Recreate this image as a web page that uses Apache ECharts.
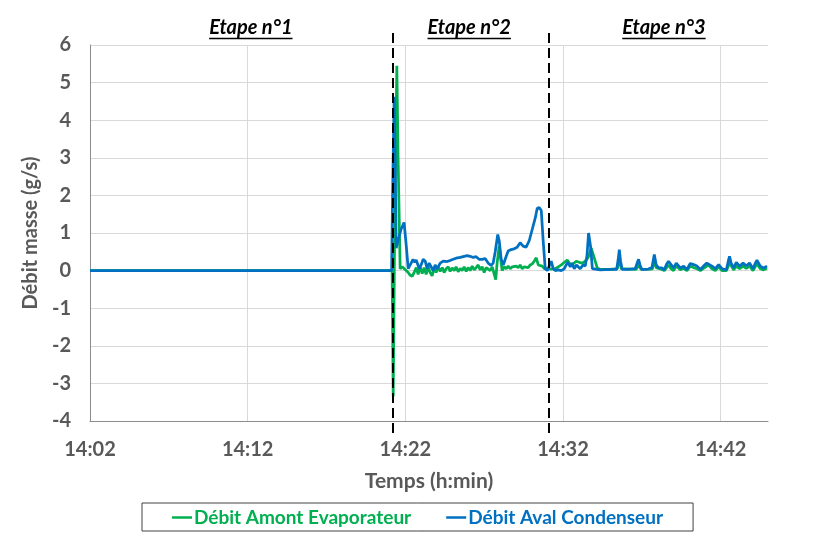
<!DOCTYPE html>
<html>
<head>
<meta charset="utf-8">
<script src="https://cdn.jsdelivr.net/npm/echarts@6/dist/echarts.min.js"></script>
<style>html,body{margin:0;padding:0;background:#fff}#c{width:814px;height:533px}</style>
</head>
<body>
<div id="c"></div>
<script>
// time in minutes after 14:02
const startLabelMinutes = 14 * 60 + 2;
const xTicks = [0, 10, 20, 30, 40];
const yTicks = [-4, -3, -2, -1, 0, 1, 2, 3, 4, 5, 6];
const stageBoundaries = [19.21, 29.08];
const stageTitles = ['Etape n°1', 'Etape n°2', 'Etape n°3'];
const stageTitleCenters = [10.2, 24.05, 36.4];
const seriesNames = ['Débit Amont Evaporateur', 'Débit Aval Condenseur'];

const amontEvaporateur = [
  [0,0],[5,0],[10,0],[15,0],[19.16,0],[19.23,-3.35],[19.32,1.0],[19.46,5.45],[19.54,3.0],[19.67,0.05],
  [19.80,0.1],[19.92,0.05],[20.05,0.0],[20.18,-0.05],[20.30,-0.12],[20.43,-0.15],[20.56,-0.05],[20.69,0.08],
  [20.81,-0.1],[20.94,0.1],[21.07,-0.08],[21.19,0.08],[21.32,-0.1],[21.45,0.1],[21.57,-0.05],[21.70,-0.14],
  [21.83,0.08],[21.95,-0.05],[22.08,0.1],[22.21,-0.02],[22.34,0.08],[22.46,-0.05],[22.59,0.05],[22.72,0.1],
  [22.84,-0.02],[22.97,0.07],[23.10,0.0],[23.22,0.1],[23.35,-0.03],[23.48,0.06],[23.60,0.0],[23.73,0.1],
  [23.86,-0.02],[23.98,0.08],[24.11,0.0],[24.24,0.12],[24.37,0.02],[24.49,0.08],[24.62,0.15],[24.75,0.02],
  [24.87,0.1],[25.00,-0.05],[25.13,0.08],[25.25,0.12],[25.38,0.0],[25.51,0.1],[25.63,0.05],[25.73,-0.24],
  [25.82,0.2],[25.95,0.65],[26.05,0.3],[26.14,0.0],[26.27,0.1],[26.40,0.05],[26.52,0.12],[26.65,0.05],
  [26.78,0.1],[26.90,0.05],[27.03,0.12],[27.16,0.08],[27.28,0.15],[27.41,0.05],[27.54,0.1],[27.66,0.12],
  [27.79,0.08],[27.92,0.15],[28.05,0.18],[28.17,0.25],[28.30,0.34],[28.43,0.15],[28.55,0.1],[28.68,0.12],
  [28.81,0.05],[28.93,0.1],[29.06,0.06],[29.19,0.04],[29.31,0.08],[29.51,0.05],[29.70,0.1],[29.89,0.15],
  [30.08,0.22],[30.27,0.28],[30.46,0.16],[30.65,0.18],[30.84,0.25],[31.03,0.22],[31.22,0.2],[31.41,0.25],
  [31.60,0.35],[31.79,0.6],[31.98,0.34],[32.17,0.07],[32.36,0.03],[32.99,0.03],[33.44,0.05],[33.57,0.3],
  [33.69,0.05],[34.64,0.03],[34.79,0.15],[34.96,0.03],[35.66,0.04],[35.79,0.25],[35.91,0.08],[36.28,0.03],
  [36.42,0.0],[36.69,0.15],[36.85,0.05],[37.01,0.0],[37.18,0.12],[37.44,0.02],[37.65,0.06],[37.86,0.0],
  [38.07,0.12],[38.28,0.08],[38.50,0.05],[38.71,0.0],[38.91,0.06],[39.23,0.15],[39.45,0.05],[39.66,0.0],
  [39.87,0.1],[40.08,0.0],[40.36,0.0],[40.56,0.2],[40.82,0.02],[40.99,0.12],[41.20,0.05],[41.42,0.12],
  [41.62,0.06],[41.83,0.12],[42.05,0.0],[42.30,0.18],[42.51,0.05],[42.72,0.02],[42.94,0.06]
];

const avalCondenseur = [
  [0,0],[5,0],[10,0],[15,0],[19.13,0],[19.19,2.0],[19.29,4.62],[19.35,3.0],[19.42,0.6],[19.54,0.8],
  [19.73,1.1],[19.92,1.28],[20.05,0.7],[20.18,0.05],[20.30,0.1],[20.49,0.3],[20.60,0.22],[20.69,0.28],[20.88,0.05],
  [21.00,0.15],[21.13,0.3],[21.26,0.25],[21.38,0.05],[21.51,0.2],[21.64,0.1],[21.76,0.0],[21.89,0.15],
  [22.02,0.05],[22.21,0.2],[22.30,0.16],[22.40,0.25],[22.52,0.2],[22.65,0.24],[22.84,0.27],[23.03,0.3],[23.22,0.33],[23.48,0.35],
  [23.60,0.32],[23.73,0.38],[23.92,0.4],[24.11,0.38],[24.30,0.35],[24.49,0.37],[24.68,0.3],[24.87,0.3],[25.06,0.32],
  [25.25,0.2],[25.44,0.14],[25.57,0.2],[25.70,0.5],[25.86,0.96],[25.95,0.8],[26.08,0.3],[26.21,0.15],
  [26.33,0.3],[26.52,0.52],[26.71,0.56],[26.90,0.58],[27.09,0.62],[27.28,0.74],[27.47,0.65],[27.66,0.62],
  [27.86,0.8],[28.05,1.1],[28.24,1.4],[28.36,1.65],[28.49,1.68],[28.62,1.6],[28.74,0.8],[28.87,0.05],
  [29.00,0.0],[29.12,0.05],[29.25,0.25],[29.38,0.05],[29.51,0.0],[29.70,0.02],[29.89,0.0],[30.08,0.05],
  [30.20,0.15],[30.31,0.22],[30.46,0.1],[30.57,0.2],[30.71,0.05],[30.85,0.15],[30.96,0.2],[31.09,0.05],[31.28,0.15],[31.41,0.12],
  [31.52,0.4],[31.62,1.0],[31.68,1.03],[31.76,0.6],[31.86,0.05],[32.36,0.02],[32.99,0.03],[33.40,0.03],
  [33.50,0.3],[33.57,0.56],[33.65,0.25],[33.75,0.03],[34.14,0.03],[34.58,0.05],[34.70,0.2],[34.79,0.3],[34.88,0.15],[35.00,0.03],[35.41,0.04],[35.64,0.08],
  [35.79,0.43],[35.91,0.15],[36.06,0.07],[36.28,0.07],[36.42,0.02],[36.58,0.18],[36.69,0.25],[36.85,0.16],[37.01,0.07],
  [37.18,0.2],[37.44,0.07],[37.65,0.12],[37.86,0.03],[38.07,0.19],[38.28,0.16],[38.50,0.12],[38.71,0.03],
  [38.91,0.12],[39.12,0.2],[39.23,0.25],[39.45,0.12],[39.66,0.05],[39.87,0.16],[40.08,0.05],[40.36,0.02],[40.48,0.25],[40.56,0.38],[40.66,0.2],
  [40.82,0.07],[40.99,0.22],[41.20,0.12],[41.42,0.2],[41.62,0.13],[41.83,0.2],[42.05,0.05],[42.20,0.2],[42.30,0.28],
  [42.51,0.12],[42.72,0.07],[42.94,0.12]
];

const FONT = 'Lato';
const GREY = '#595959';
const chart = echarts.init(document.getElementById('c'), null, {renderer: 'canvas'});

function fmtTime(v) {
  const m = Math.round(startLabelMinutes + v);
  const h = Math.floor(m / 60), mm = m % 60;
  return h + ':' + (mm < 10 ? '0' : '') + mm;
}

chart.setOption({
  animation: false,
  backgroundColor: '#fff',
  grid: {left: 90, right: 46, top: 45, bottom: 112, containLabel: false},
  xAxis: {
    type: 'value', min: 0, max: 43, interval: 10,
    name: 'Temps (h:min)', nameLocation: 'middle', nameGap: 50,
    nameTextStyle: {color: GREY, fontFamily: FONT, fontWeight: 'bold', fontSize: 21},
    axisLine: {show: true, onZero: false, lineStyle: {color: '#8c8c8c', width: 1}},
    axisTick: {show: false},
    axisLabel: {color: GREY, fontFamily: FONT, fontWeight: 'bold', fontSize: 20, margin: 19,
      showMaxLabel: false, formatter: v => xTicks.includes(v) ? fmtTime(v) : ''},
    splitLine: {show: true, showMinLine: false, showMaxLine: false, lineStyle: {color: '#d9d9d9', width: 1}}
  },
  yAxis: {
    type: 'value', min: yTicks[0], max: yTicks[yTicks.length - 1], interval: 1,
    name: 'Débit masse (g/s)', nameLocation: 'middle', nameGap: 44,
    nameTextStyle: {color: GREY, fontFamily: FONT, fontWeight: 'bold', fontSize: 20},
    axisLine: {show: true, lineStyle: {color: '#8c8c8c', width: 1}},
    axisTick: {show: false},
    axisLabel: {color: GREY, fontFamily: FONT, fontWeight: 'bold', fontSize: 20, margin: 19},
    splitLine: {show: true, lineStyle: {color: '#d9d9d9', width: 1}}
  },
  legend: {
    left: 142, bottom: 2, orient: 'horizontal',
    borderColor: '#404040', borderWidth: 1, padding: [5, 30, 4, 30], itemGap: 35,
    icon: 'rect', itemWidth: 20, itemHeight: 2.5,
    textStyle: {fontFamily: FONT, fontWeight: 'bold', fontSize: 19, padding: [0, 0, 0, -3]},
    data: [
      {name: seriesNames[0], textStyle: {color: '#00b050'}},
      {name: seriesNames[1], textStyle: {color: '#0070c0'}}
    ]
  },
  series: [
    {name: seriesNames[0], type: 'line', data: amontEvaporateur, showSymbol: false, symbol: 'none',
      lineStyle: {color: '#00b050', width: 2.75}, itemStyle: {color: '#00b050'}},
    {name: seriesNames[1], type: 'line', data: avalCondenseur, showSymbol: false, symbol: 'none',
      lineStyle: {color: '#0070c0', width: 2.75}, itemStyle: {color: '#0070c0'}}
  ]
});

// overlay: stage titles (underlined) and dashed stage boundaries
const ctx = document.createElement('canvas').getContext('2d');
const titleFont = 'italic bold 20px ' + FONT;
ctx.font = titleFont;
const graphics = [];
stageBoundaries.forEach(t => {
  const px = Math.round(chart.convertToPixel({xAxisIndex: 0}, t));
  graphics.push({type: 'line', silent: true, z: 100,
    shape: {x1: px, y1: 33, x2: px, y2: 434},
    style: {stroke: '#000', lineWidth: 2, lineDash: [10, 5]}});
});
stageTitles.forEach((s, i) => {
  const cx = chart.convertToPixel({xAxisIndex: 0}, stageTitleCenters[i]);
  const w = ctx.measureText(s).width;
  graphics.push({type: 'text', silent: true, z: 100, x: cx, y: 28,
    style: {text: s, fill: '#000', font: titleFont, align: 'center', verticalAlign: 'middle'}});
  graphics.push({type: 'line', silent: true, z: 100,
    shape: {x1: cx - w / 2, y1: 38.5, x2: cx + w / 2, y2: 38.5},
    style: {stroke: '#000', lineWidth: 1.5}});
});
chart.setOption({graphic: graphics});
</script>
</body>
</html>
